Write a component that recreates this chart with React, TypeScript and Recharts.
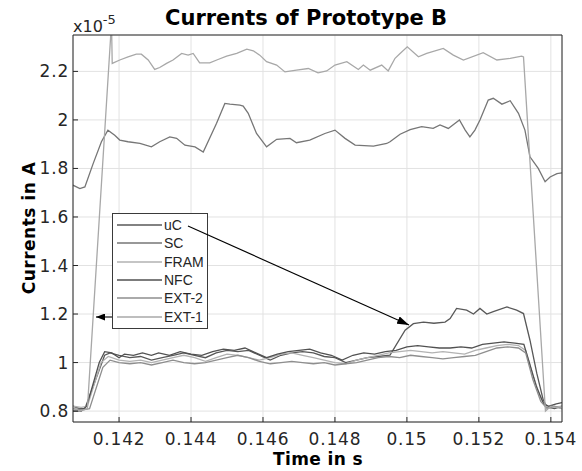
import { CartesianGrid, Legend, Line, LineChart, XAxis, YAxis } from "recharts";

type Point = [number, number];

// time in s, current in units of 1e-5 A
const timeTicks = [0.142, 0.144, 0.146, 0.148, 0.15, 0.152, 0.154];
const currentTicks = [0.8, 1, 1.2, 1.4, 1.6, 1.8, 2, 2.2];
const timeDomain: [number, number] = [0.14072, 0.15431];
const currentDomain: [number, number] = [0.755, 2.35];

const seriesNames = ["uC", "SC", "FRAM", "NFC", "EXT-2", "EXT-1"];

const uC: Point[] = [
  [0.14072, 0.82], [0.1409, 0.81], [0.14105, 0.81], [0.1414, 0.95], [0.1416, 1.03], [0.14175, 1.04],
  [0.142, 1.03], [0.1423, 1.02], [0.1426, 1.025], [0.1429, 1.01], [0.1432, 1.02], [0.1435, 1.03],
  [0.1438, 1.04], [0.1441, 1.03], [0.1444, 1.02], [0.1447, 1.04], [0.145, 1.05], [0.1453, 1.045],
  [0.1456, 1.05], [0.1459, 1.03], [0.1462, 1.01], [0.1465, 1.03], [0.1468, 1.04], [0.1471, 1.045],
  [0.1474, 1.04], [0.1477, 1.025], [0.148, 1.02], [0.1483, 1.0], [0.1486, 1.01], [0.1489, 1.02],
  [0.1492, 1.025], [0.14953, 1.031], [0.14995, 1.133], [0.15018, 1.16], [0.15046, 1.167], [0.15075, 1.162],
  [0.15106, 1.167], [0.1512, 1.181], [0.15138, 1.223], [0.15166, 1.216], [0.15185, 1.2], [0.15203, 1.223],
  [0.15222, 1.2], [0.1524, 1.21], [0.15278, 1.229], [0.15305, 1.216], [0.15324, 1.202], [0.15342, 1.092],
  [0.15361, 0.955], [0.15379, 0.845], [0.15389, 0.817], [0.1541, 0.81], [0.15431, 0.82],
];

const sc: Point[] = [
  [0.14072, 1.731], [0.14091, 1.717], [0.14105, 1.724], [0.14128, 1.82], [0.14151, 1.91], [0.14169, 1.958],
  [0.14188, 1.937], [0.14202, 1.917], [0.14225, 1.91], [0.14258, 1.903], [0.1429, 1.889], [0.14313, 1.91],
  [0.14341, 1.93], [0.1436, 1.924], [0.14383, 1.896], [0.14411, 1.889], [0.14434, 1.868], [0.14471, 1.986],
  [0.14494, 2.068], [0.14508, 2.065], [0.14536, 2.061], [0.14545, 2.057], [0.14559, 2.027], [0.14582, 1.944],
  [0.1461, 1.889], [0.14638, 1.92], [0.14675, 1.924], [0.14693, 1.906], [0.1473, 1.917], [0.14772, 1.944],
  [0.148, 1.958], [0.14828, 1.924], [0.14856, 1.896], [0.14907, 1.892], [0.14944, 1.903], [0.14953, 1.91],
  [0.14981, 1.941], [0.15009, 1.96], [0.15041, 1.972], [0.15073, 1.965], [0.15092, 1.979], [0.15115, 1.965],
  [0.15146, 2.0], [0.15162, 1.958], [0.15175, 1.93], [0.15189, 1.958], [0.15203, 2.0], [0.15226, 2.082],
  [0.1524, 2.089], [0.15264, 2.065], [0.15287, 2.079], [0.1531, 2.027], [0.15328, 1.958], [0.15342, 1.848],
  [0.15365, 1.8], [0.15384, 1.745], [0.15398, 1.765], [0.15417, 1.779], [0.15431, 1.782],
];

const fram: Point[] = [
  [0.14072, 0.82], [0.14095, 0.815], [0.14112, 0.82], [0.1415, 1.0], [0.1417, 1.025], [0.142, 1.01],
  [0.1423, 1.005], [0.1426, 1.01], [0.1429, 1.0], [0.1432, 1.01], [0.1435, 1.02], [0.1438, 1.03],
  [0.1441, 1.02], [0.1444, 1.005], [0.1447, 1.02], [0.145, 1.035], [0.1453, 1.03], [0.1456, 1.02],
  [0.1459, 1.01], [0.1462, 1.02], [0.1465, 1.035], [0.1468, 1.04], [0.1471, 1.03], [0.1474, 1.02],
  [0.1477, 1.01], [0.148, 1.0], [0.1483, 0.995], [0.1486, 1.01], [0.1489, 1.02], [0.1492, 1.03],
  [0.1495, 1.04], [0.1498, 1.045], [0.1501, 1.05], [0.1504, 1.045], [0.1507, 1.04], [0.151, 1.045],
  [0.1513, 1.04], [0.1516, 1.035], [0.1519, 1.05], [0.1522, 1.06], [0.1525, 1.07], [0.1528, 1.075],
  [0.1531, 1.07], [0.1533, 1.05], [0.1535, 0.95], [0.1537, 0.86], [0.15385, 0.82], [0.154, 0.815],
  [0.15431, 0.82],
];

const nfc: Point[] = [
  [0.14072, 0.8], [0.14095, 0.8], [0.1411, 0.82], [0.14145, 1.0], [0.1416, 1.045], [0.1418, 1.04],
  [0.142, 1.02], [0.14215, 1.035], [0.1424, 1.03], [0.14265, 1.04], [0.1429, 1.03], [0.1431, 1.04],
  [0.1434, 1.03], [0.1437, 1.045], [0.144, 1.035], [0.1443, 1.03], [0.1446, 1.045], [0.1449, 1.055],
  [0.1452, 1.05], [0.1455, 1.06], [0.1458, 1.04], [0.1461, 1.02], [0.1464, 1.035], [0.1467, 1.045],
  [0.147, 1.05], [0.1473, 1.055], [0.1476, 1.04], [0.1479, 1.03], [0.1482, 1.01], [0.1485, 1.03],
  [0.1488, 1.04], [0.1491, 1.035], [0.1494, 1.045], [0.1497, 1.05], [0.15, 1.065], [0.1503, 1.07],
  [0.1506, 1.065], [0.1509, 1.06], [0.1512, 1.06], [0.1515, 1.065], [0.1518, 1.06], [0.1521, 1.075],
  [0.1524, 1.08], [0.1527, 1.085], [0.153, 1.08], [0.15325, 1.075], [0.1534, 1.0], [0.1536, 0.9],
  [0.1538, 0.83], [0.15395, 0.82], [0.15415, 0.83], [0.15431, 0.835],
];

const ext2: Point[] = [
  [0.14072, 0.81], [0.141, 0.805], [0.14118, 0.81], [0.14155, 0.98], [0.14175, 1.01], [0.142, 1.0],
  [0.1423, 0.995], [0.1426, 1.0], [0.1429, 0.99], [0.1432, 1.0], [0.1435, 1.01], [0.1438, 1.0],
  [0.1441, 0.995], [0.1444, 1.0], [0.1447, 1.01], [0.145, 1.02], [0.1453, 1.03], [0.1456, 1.02],
  [0.1459, 1.005], [0.1462, 0.995], [0.1465, 1.0], [0.1468, 1.005], [0.1471, 1.0], [0.1474, 0.995],
  [0.1477, 1.0], [0.148, 0.99], [0.1483, 0.995], [0.1486, 1.0], [0.1489, 1.01], [0.1492, 1.02],
  [0.1495, 1.025], [0.1498, 1.02], [0.1501, 1.03], [0.1504, 1.025], [0.1507, 1.02], [0.151, 1.015],
  [0.1513, 1.02], [0.1516, 1.025], [0.1519, 1.03], [0.1522, 1.045], [0.1525, 1.06], [0.1528, 1.065],
  [0.1531, 1.06], [0.1533, 1.04], [0.1535, 0.93], [0.15372, 0.84], [0.1539, 0.81], [0.1541, 0.82],
  [0.15431, 0.81],
];

const ext1: Point[] = [
  [0.14072, 0.81], [0.1409, 0.8], [0.14112, 0.81], [0.14179, 2.4], [0.14181, 2.233], [0.14202, 2.247],
  [0.14225, 2.26], [0.14248, 2.271], [0.14262, 2.271], [0.14281, 2.247], [0.14299, 2.208], [0.14313, 2.216],
  [0.14332, 2.233], [0.1435, 2.247], [0.14374, 2.274], [0.14392, 2.267], [0.14406, 2.274], [0.14424, 2.235],
  [0.14452, 2.235], [0.14475, 2.249], [0.14499, 2.263], [0.14527, 2.274], [0.14555, 2.292], [0.14573, 2.285],
  [0.14591, 2.267], [0.1461, 2.24], [0.14638, 2.226], [0.14661, 2.198], [0.14693, 2.205], [0.14726, 2.212],
  [0.14753, 2.194], [0.14777, 2.202], [0.148, 2.226], [0.14833, 2.24], [0.14865, 2.208], [0.14879, 2.226],
  [0.14898, 2.205], [0.1493, 2.226], [0.14948, 2.202], [0.14967, 2.254], [0.14981, 2.274], [0.15001, 2.301],
  [0.15032, 2.26], [0.15055, 2.274], [0.15101, 2.295], [0.15129, 2.267], [0.15157, 2.247], [0.15212, 2.277],
  [0.1525, 2.247], [0.15287, 2.254], [0.15319, 2.263], [0.15324, 2.26], [0.15385, 0.8], [0.154, 0.82],
  [0.15431, 0.81],
];

const seriesData = [uC, sc, fram, nfc, ext2, ext1];
const seriesColors = ["#585858", "#767676", "#b2b2b2", "#515151", "#8e8e8e", "#a8a8a8"];

const axisColor = "#262626";
const tickFont = { fontFamily: "DejaVu Sans", fontSize: 17, fill: axisColor, letterSpacing: 0.8 };

function fmt(v: number) {
  return String(Number(v.toFixed(3)));
}

function LegendBox({ payload }: any) {
  const items = seriesNames
    .map((n) => (payload ?? []).find((p: any) => p.value === n))
    .filter(Boolean);
  return (
    <div
      style={{
        border: "1px solid #3a3a3a",
        background: "#fff",
        width: 96,
        boxSizing: "border-box",
        padding: "2px 0",
      }}
    >
      {items.map((item: any) => (
        <div key={item.value} style={{ height: 18.3, display: "flex", alignItems: "center" }}>
          <svg width={50} height={18} style={{ display: "block" }}>
            <line x1={4} x2={49} y1={9} y2={9} stroke={item.color} strokeWidth={1.3} />
          </svg>
          <span style={{ fontFamily: "Liberation Sans", fontSize: 14, color: axisColor, marginLeft: 1 }}>
            {item.value}
          </span>
        </div>
      ))}
    </div>
  );
}

export default function App() {
  return (
    <div style={{ position: "relative", width: 582, height: 471, background: "#fff" }}>
      <style>{"body{margin:0}"}</style>
      <LineChart width={582} height={471} margin={{ top: 5, right: 0, bottom: 0, left: 0 }}>
        <CartesianGrid xAxisId="bottom" yAxisId="left" stroke="#e2e2e2" strokeWidth={1} />
        <XAxis
          xAxisId="bottom"
          dataKey="t"
          type="number"
          domain={timeDomain}
          ticks={timeTicks}
          allowDataOverflow
          tickFormatter={fmt}
          height={49}
          tickSize={-5}
          tickMargin={16}
          stroke={axisColor}
          tick={tickFont}
        />
        <XAxis
          xAxisId="top"
          orientation="top"
          type="number"
          domain={timeDomain}
          ticks={timeTicks}
          allowDataOverflow
          height={30}
          tickSize={-5}
          tick={false}
          stroke={axisColor}
        />
        <YAxis
          yAxisId="left"
          type="number"
          domain={currentDomain}
          ticks={currentTicks}
          allowDataOverflow
          tickFormatter={(v: number) => String(Number(v.toFixed(1)))}
          width={73}
          tickSize={-5}
          tickMargin={9}
          stroke={axisColor}
          tick={tickFont}
        />
        <YAxis
          yAxisId="right"
          orientation="right"
          type="number"
          domain={currentDomain}
          ticks={currentTicks}
          allowDataOverflow
          width={20}
          tickSize={-5}
          tick={false}
          stroke={axisColor}
        />
        {seriesData.map((pts, i) => (
          <Line
            key={seriesNames[i]}
            xAxisId="bottom"
            yAxisId="left"
            name={seriesNames[i]}
            data={pts.map(([t, v]) => ({ t, v }))}
            dataKey="v"
            type="linear"
            stroke={seriesColors[i]}
            strokeWidth={1.3}
            dot={false}
            isAnimationActive={false}
          />
        ))}
        <Legend
          layout="vertical"
          align="center"
          verticalAlign="middle"
          content={<LegendBox />}
          wrapperStyle={{ left: 112, top: 213, width: 96, height: "auto" }}
        />
      </LineChart>
      <svg
        width={582}
        height={471}
        style={{ position: "absolute", left: 0, top: 0, pointerEvents: "none" }}
        fontFamily="DejaVu Sans"
      >
        <defs>
          <marker id="head" markerWidth={12} markerHeight={8} refX={12} refY={4} orient="auto" markerUnits="userSpaceOnUse">
            <path d="M0,0 L12,4 L0,8 z" fill="#000" />
          </marker>
          <marker id="headSmall" markerWidth={9} markerHeight={7} refX={9} refY={3.5} orient="auto" markerUnits="userSpaceOnUse">
            <path d="M0,0 L9,3.5 L0,7 z" fill="#000" />
          </marker>
        </defs>
        <text x={306} y={25} textAnchor="middle" fontWeight="bold" fontSize={21} fill="#000">
          Currents of Prototype B
        </text>
        <text x={73} y={32} fontSize={16} fill={axisColor}>
          x10
          <tspan dy={-8} fontSize={13}>
            -5
          </tspan>
        </text>
        <text transform="translate(35,228) rotate(-90)" textAnchor="middle" fontWeight="bold" fontSize={17} fill="#000" letterSpacing={0.5}>
          Currents in A
        </text>
        <text x={318} y={465} textAnchor="middle" fontWeight="bold" fontSize={17} fill="#000" letterSpacing={0.4}>
          Time in s
        </text>
        <line x1={188} y1={226} x2={409} y2={325} stroke="#000" strokeWidth={1.1} markerEnd="url(#head)" />
        <line x1={112} y1={317} x2={96} y2={317} stroke="#000" strokeWidth={1.1} markerEnd="url(#headSmall)" />
      </svg>
    </div>
  );
}
